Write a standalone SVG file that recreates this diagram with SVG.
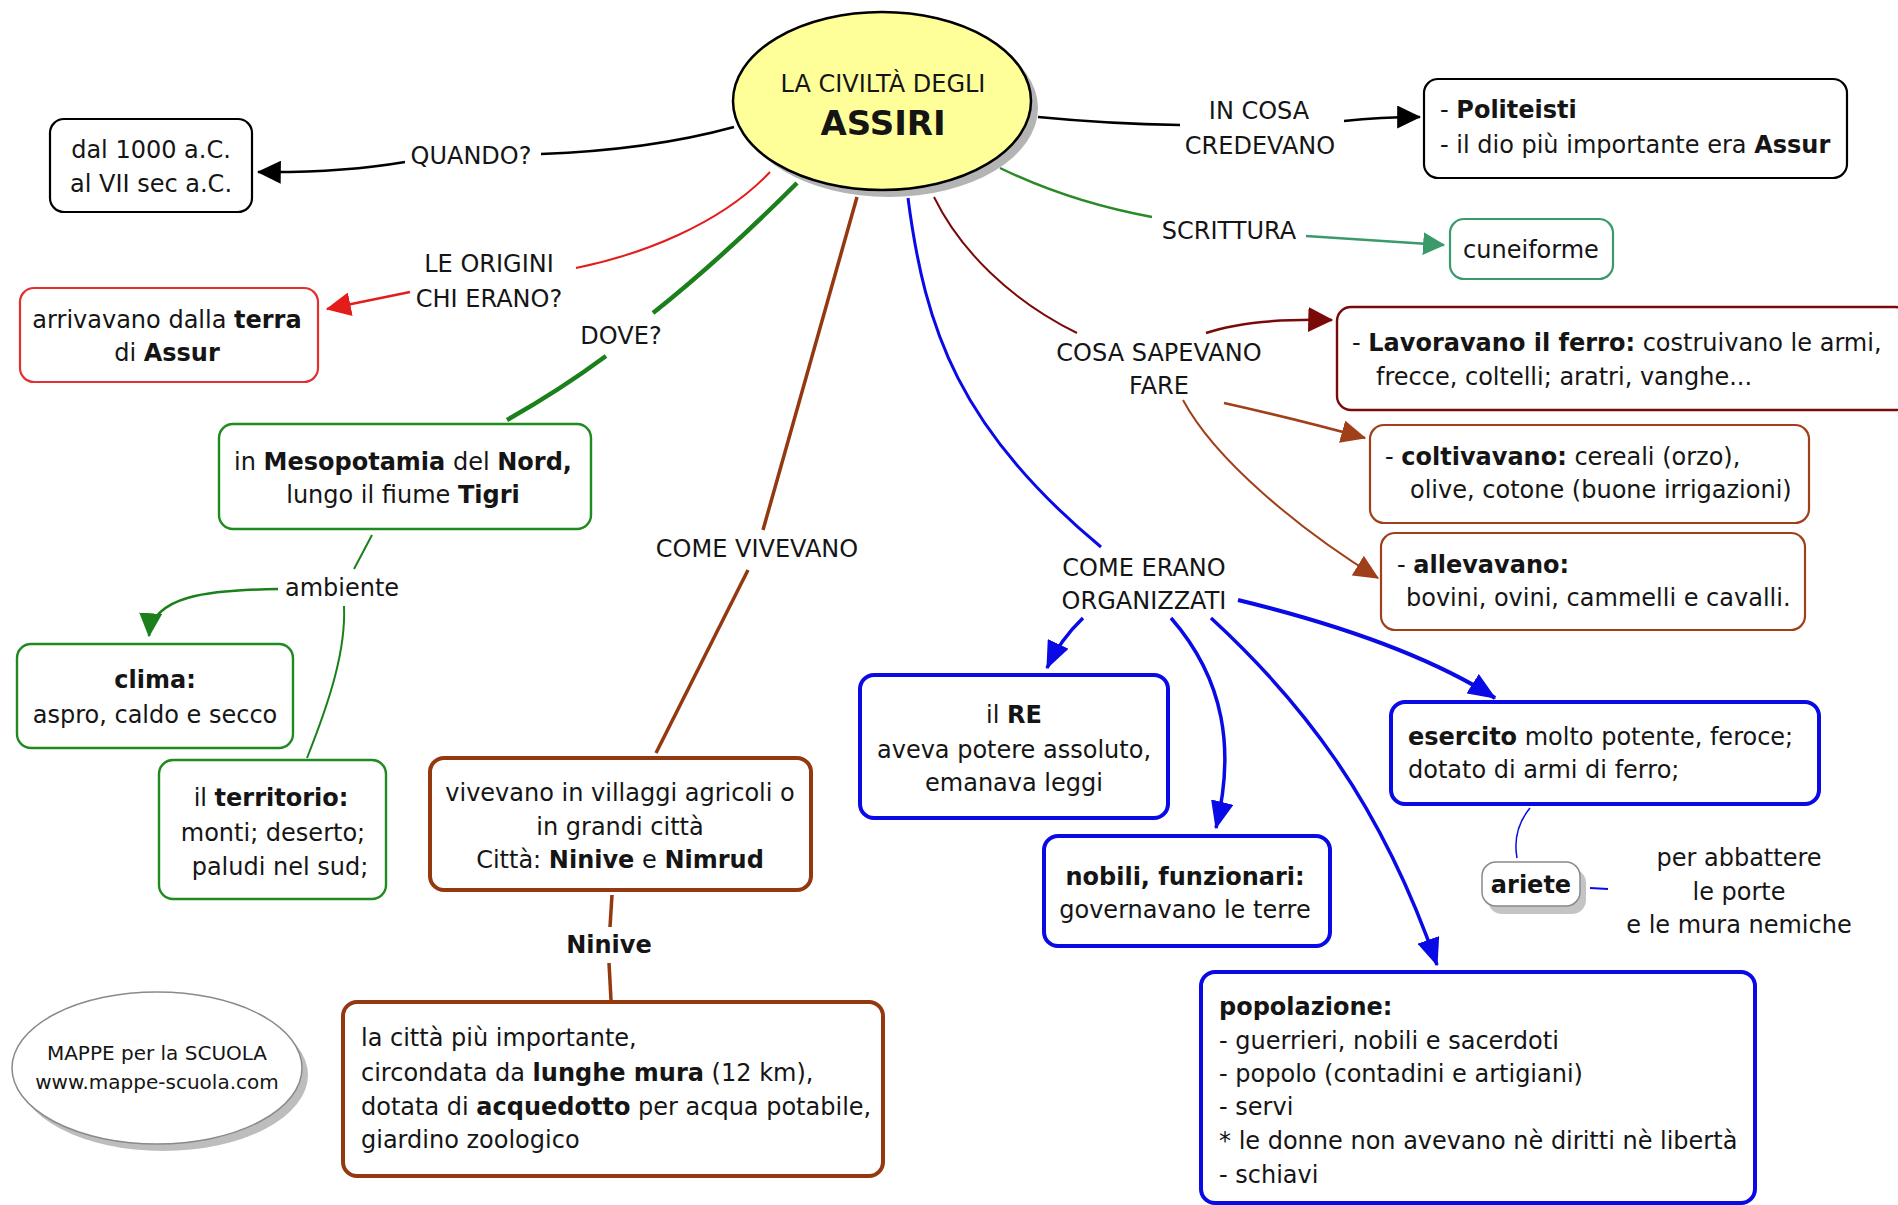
<svg xmlns="http://www.w3.org/2000/svg" width="1898" height="1205" viewBox="0 0 1898 1205">
<style>
text{font-family:"DejaVu Sans",Verdana,"Liberation Sans",sans-serif;font-size:24px;fill:#151515}
.m{text-anchor:middle}
.b{font-weight:bold}
.box{fill:#fff}
.ln{fill:none}
</style>
<defs>
<marker id="aK" viewBox="0 0 10 10" refX="9.5" refY="5" markerWidth="24" markerHeight="23" markerUnits="userSpaceOnUse" orient="auto" preserveAspectRatio="none"><path d="M0,0L10,5L0,10z" fill="#000"/></marker>
<marker id="aR" viewBox="0 0 10 10" refX="9.5" refY="5" markerWidth="25" markerHeight="24" markerUnits="userSpaceOnUse" orient="auto" preserveAspectRatio="none"><path d="M0,0L10,5L0,10z" fill="#e51c1c"/></marker>
<marker id="aG" viewBox="0 0 10 10" refX="9.5" refY="5" markerWidth="24" markerHeight="23" markerUnits="userSpaceOnUse" orient="auto" preserveAspectRatio="none"><path d="M0,0L10,5L0,10z" fill="#1b801b"/></marker>
<marker id="aS" viewBox="0 0 10 10" refX="9.5" refY="5" markerWidth="22" markerHeight="23" markerUnits="userSpaceOnUse" orient="auto" preserveAspectRatio="none"><path d="M0,0L10,5L0,10z" fill="#3a9a6a"/></marker>
<marker id="aD" viewBox="0 0 10 10" refX="9.5" refY="5" markerWidth="25" markerHeight="25" markerUnits="userSpaceOnUse" orient="auto" preserveAspectRatio="none"><path d="M0,0L10,5L0,10z" fill="#7a0a0a"/></marker>
<marker id="aN" viewBox="0 0 10 10" refX="9.5" refY="5" markerWidth="25" markerHeight="23" markerUnits="userSpaceOnUse" orient="auto" preserveAspectRatio="none"><path d="M0,0L10,5L0,10z" fill="#a0401a"/></marker>
<marker id="aB" viewBox="0 0 10 10" refX="9.5" refY="5" markerWidth="28" markerHeight="23" markerUnits="userSpaceOnUse" orient="auto" preserveAspectRatio="none"><path d="M0,0L10,5L0,10z" fill="#0a0ae6"/></marker>
</defs>
<rect width="1898" height="1205" fill="#fff"/>

<g id="connectors" stroke-width="2.5">
<path class="ln" stroke="#000" d="M734,127 Q650,150 541,154"/>
<path class="ln" stroke="#000" d="M405,162 Q340,173 258,172" marker-end="url(#aK)"/>
<path class="ln" stroke="#000" d="M1038,117 Q1110,124 1180,125"/>
<path class="ln" stroke="#000" d="M1344,121 Q1380,117 1420,117" marker-end="url(#aK)"/>
<path class="ln" stroke="#e51c1c" stroke-width="2" d="M770,172 C720,225 640,255 576,268"/>
<path class="ln" stroke="#e51c1c" d="M410,292 L327,309" marker-end="url(#aR)"/>
<path class="ln" stroke="#1b801b" stroke-width="4.5" d="M797,183 Q720,260 653,313"/>
<path class="ln" stroke="#1b801b" stroke-width="4.5" d="M606,356 Q560,390 507,420"/>
<path class="ln" stroke="#1b801b" stroke-width="2" d="M372,535 L354,569"/>
<path class="ln" stroke="#1b801b" d="M278,589 C210,590 152,595 149,636" marker-end="url(#aG)"/>
<path class="ln" stroke="#1b801b" stroke-width="2" d="M344,606 C346,650 330,700 307,758"/>
<path class="ln" stroke="#93380f" stroke-width="3.5" d="M857,197 L763,530"/>
<path class="ln" stroke="#93380f" stroke-width="3.5" d="M748,570 L656,753"/>
<path class="ln" stroke="#93380f" stroke-width="3.5" d="M612,895 L610,927"/>
<path class="ln" stroke="#93380f" stroke-width="3.5" d="M609,963 L611,1000"/>
<path class="ln" stroke="#2a8a2a" d="M1000,168 Q1070,202 1152,217"/>
<path class="ln" stroke="#3a9a6a" d="M1306,236 L1444,245" marker-end="url(#aS)"/>
<path class="ln" stroke="#7a0a0a" stroke-width="2" d="M934,197 C960,250 1010,300 1077,333"/>
<path class="ln" stroke="#7a0a0a" d="M1206,333 Q1250,318 1332,320" marker-end="url(#aD)"/>
<path class="ln" stroke="#a0401a" d="M1224,403 Q1300,420 1365,438" marker-end="url(#aN)"/>
<path class="ln" stroke="#a0401a" stroke-width="2" d="M1183,400 C1215,460 1300,530 1378,578" marker-end="url(#aN)"/>
<path class="ln" stroke="#0a0ae6" stroke-width="3" d="M908,198 C925,330 960,430 1101,547"/>
<path class="ln" stroke="#0a0ae6" stroke-width="3.5" d="M1083,618 Q1060,640 1047,668" marker-end="url(#aB)"/>
<path class="ln" stroke="#0a0ae6" stroke-width="3.5" d="M1171,618 C1225,680 1235,750 1216,828" marker-end="url(#aB)"/>
<path class="ln" stroke="#0a0ae6" stroke-width="3.5" d="M1211,618 C1300,700 1380,800 1437,965" marker-end="url(#aB)"/>
<path class="ln" stroke="#0a0ae6" stroke-width="4" d="M1238,600 C1320,620 1420,650 1495,698" marker-end="url(#aB)"/>
<path class="ln" stroke="#0a0ae6" stroke-width="1.5" d="M1530,808 Q1512,830 1517,858"/>
<path class="ln" stroke="#0a0ae6" stroke-width="2" d="M1590,888 L1608,889"/>
</g>

<g id="n-center">
<ellipse cx="889" cy="108" rx="149" ry="89" fill="#b4b4b4"/>
<ellipse cx="882" cy="101" rx="149" ry="89" fill="#ffff99" stroke="#000" stroke-width="2.5"/>
<text class="m" x="883" y="92">LA CIVILTÀ DEGLI</text>
<text class="m b" x="883" y="135" style="font-size:34px">ASSIRI</text>
</g>

<g id="l-quando"><text class="m" x="471" y="164">QUANDO?</text></g>
<g id="n-dal">
<rect class="box" stroke="#000" stroke-width="2.2" x="50" y="119" width="202" height="93" rx="14"/>
<text class="m" x="151" y="158">dal 1000 a.C.</text>
<text class="m" x="151" y="192">al VII sec a.C.</text>
</g>

<g id="l-incosa"><text class="m" x="1259" y="119">IN COSA</text><text class="m" x="1260" y="154">CREDEVANO</text></g>
<g id="n-politeisti">
<rect class="box" stroke="#000" stroke-width="2.2" x="1424" y="79" width="423" height="99" rx="14"/>
<text x="1440" y="118">- <tspan class="b">Politeisti</tspan></text>
<text x="1440" y="153">- il dio più importante era <tspan class="b">Assur</tspan></text>
</g>

<g id="l-origini"><text class="m" x="489" y="272">LE ORIGINI</text><text class="m" x="489" y="307">CHI ERANO?</text></g>
<g id="n-arrivavano">
<rect class="box" stroke="#e03030" stroke-width="2.2" x="20" y="288" width="298" height="94" rx="14"/>
<text class="m" x="167" y="328">arrivavano dalla <tspan class="b">terra</tspan></text>
<text class="m" x="167" y="361">di <tspan class="b">Assur</tspan></text>
</g>

<g id="l-dove"><text class="m" x="621" y="344">DOVE?</text></g>
<g id="n-mesopotamia">
<rect class="box" stroke="#1f8a1f" stroke-width="2.4" x="219" y="424" width="372" height="105" rx="14"/>
<text class="m" x="403" y="470">in <tspan class="b">Mesopotamia</tspan> del <tspan class="b">Nord,</tspan></text>
<text class="m" x="403" y="503">lungo il fiume <tspan class="b">Tigri</tspan></text>
</g>

<g id="l-ambiente"><text class="m" x="342" y="596">ambiente</text></g>
<g id="n-clima">
<rect class="box" stroke="#1f8a1f" stroke-width="2.4" x="17" y="644" width="276" height="104" rx="14"/>
<text class="m b" x="155" y="688">clima:</text>
<text class="m" x="155" y="723">aspro, caldo e secco</text>
</g>
<g id="n-territorio">
<rect class="box" stroke="#1f8a1f" stroke-width="2.4" x="159" y="760" width="227" height="139" rx="14"/>
<text class="m" x="271" y="806">il <tspan class="b">territorio:</tspan></text>
<text class="m" x="273" y="841">monti; deserto;</text>
<text class="m" x="280" y="875">paludi nel sud;</text>
</g>

<g id="l-comevivevano"><text class="m" x="757" y="557">COME VIVEVANO</text></g>
<g id="n-vivevano">
<rect class="box" stroke="#93380f" stroke-width="4" x="430" y="758" width="381" height="132" rx="14"/>
<text class="m" x="620" y="801">vivevano in villaggi agricoli o</text>
<text class="m" x="620" y="835">in grandi città</text>
<text class="m" x="620" y="868">Città: <tspan class="b">Ninive</tspan> e <tspan class="b">Nimrud</tspan></text>
</g>
<g id="l-ninive"><text class="m b" x="609" y="953">Ninive</text></g>
<g id="n-ninive">
<rect class="box" stroke="#93380f" stroke-width="4" x="343" y="1002" width="540" height="174" rx="14"/>
<text x="361" y="1046">la città più importante,</text>
<text x="361" y="1081">circondata da <tspan class="b">lunghe mura</tspan> (12 km),</text>
<text x="361" y="1115">dotata di <tspan class="b">acquedotto</tspan> per acqua potabile,</text>
<text x="361" y="1148">giardino zoologico</text>
</g>

<g id="n-mappe">
<ellipse cx="163" cy="1075" rx="145" ry="76" fill="#bdbdbd"/>
<ellipse cx="157" cy="1068" rx="145" ry="76" fill="#fff" stroke="#8a8a8a" stroke-width="1.5"/>
<text class="m" x="157" y="1060" style="font-size:20px">MAPPE per la SCUOLA</text>
<text class="m" x="157" y="1089" style="font-size:20px">www.mappe-scuola.com</text>
</g>

<g id="l-scrittura"><text class="m" x="1229" y="239">SCRITTURA</text></g>
<g id="n-cuneiforme">
<rect class="box" stroke="#3a9a6a" stroke-width="2.2" x="1450" y="219" width="163" height="60" rx="14"/>
<text class="m" x="1531" y="258">cuneiforme</text>
</g>

<g id="l-cosasapevano"><text class="m" x="1159" y="361">COSA SAPEVANO</text><text class="m" x="1159" y="394">FARE</text></g>
<g id="n-lavoravano">
<rect class="box" stroke="#7a0a0a" stroke-width="2.4" x="1337" y="307" width="572" height="103" rx="14"/>
<text x="1352" y="351">- <tspan class="b">Lavoravano il ferro:</tspan> costruivano le armi,</text>
<text x="1376" y="385">frecce, coltelli; aratri, vanghe...</text>
</g>
<g id="n-coltivavano">
<rect class="box" stroke="#a0401a" stroke-width="2.2" x="1370" y="425" width="439" height="98" rx="14"/>
<text x="1385" y="465">- <tspan class="b">coltivavano:</tspan> cereali (orzo),</text>
<text x="1410" y="498">olive, cotone (buone irrigazioni)</text>
</g>
<g id="n-allevavano">
<rect class="box" stroke="#a0401a" stroke-width="2.2" x="1381" y="533" width="424" height="97" rx="14"/>
<text x="1397" y="573">- <tspan class="b">allevavano:</tspan></text>
<text x="1406" y="606">bovini, ovini, cammelli e cavalli.</text>
</g>

<g id="l-comeerano"><text class="m" x="1144" y="576">COME ERANO</text><text class="m" x="1144" y="609">ORGANIZZATI</text></g>
<g id="n-re">
<rect class="box" stroke="#0a0ae6" stroke-width="4" x="860" y="675" width="308" height="143" rx="14"/>
<text class="m" x="1014" y="723">il <tspan class="b">RE</tspan></text>
<text class="m" x="1014" y="758">aveva potere assoluto,</text>
<text class="m" x="1014" y="791">emanava leggi</text>
</g>
<g id="n-nobili">
<rect class="box" stroke="#0a0ae6" stroke-width="4" x="1044" y="836" width="286" height="110" rx="14"/>
<text class="m b" x="1185" y="885">nobili, funzionari:</text>
<text class="m" x="1185" y="918">governavano le terre</text>
</g>
<g id="n-esercito">
<rect class="box" stroke="#0a0ae6" stroke-width="4" x="1391" y="702" width="428" height="102" rx="14"/>
<text x="1408" y="745"><tspan class="b">esercito</tspan> molto potente, feroce;</text>
<text x="1408" y="778">dotato di armi di ferro;</text>
</g>
<g id="n-ariete">
<rect x="1488" y="869" width="98" height="45" rx="14" fill="#c4c4c4"/>
<rect x="1482" y="862" width="98" height="44" rx="14" fill="#fff" stroke="#8a8a8a" stroke-width="1.5"/>
<text class="m b" x="1531" y="893">ariete</text>
</g>
<g id="l-abbattere">
<text class="m" x="1739" y="866">per abbattere</text>
<text class="m" x="1739" y="900">le porte</text>
<text class="m" x="1739" y="933">e le mura nemiche</text>
</g>
<g id="n-popolazione">
<rect class="box" stroke="#0a0ae6" stroke-width="4" x="1201" y="972" width="554" height="231" rx="14"/>
<text class="b" x="1219" y="1015">popolazione:</text>
<text x="1219" y="1049">- guerrieri, nobili e sacerdoti</text>
<text x="1219" y="1082">- popolo (contadini e artigiani)</text>
<text x="1219" y="1115">- servi</text>
<text x="1219" y="1149">* le donne non avevano nè diritti nè libertà</text>
<text x="1219" y="1183">- schiavi</text>
</g>
</svg>
